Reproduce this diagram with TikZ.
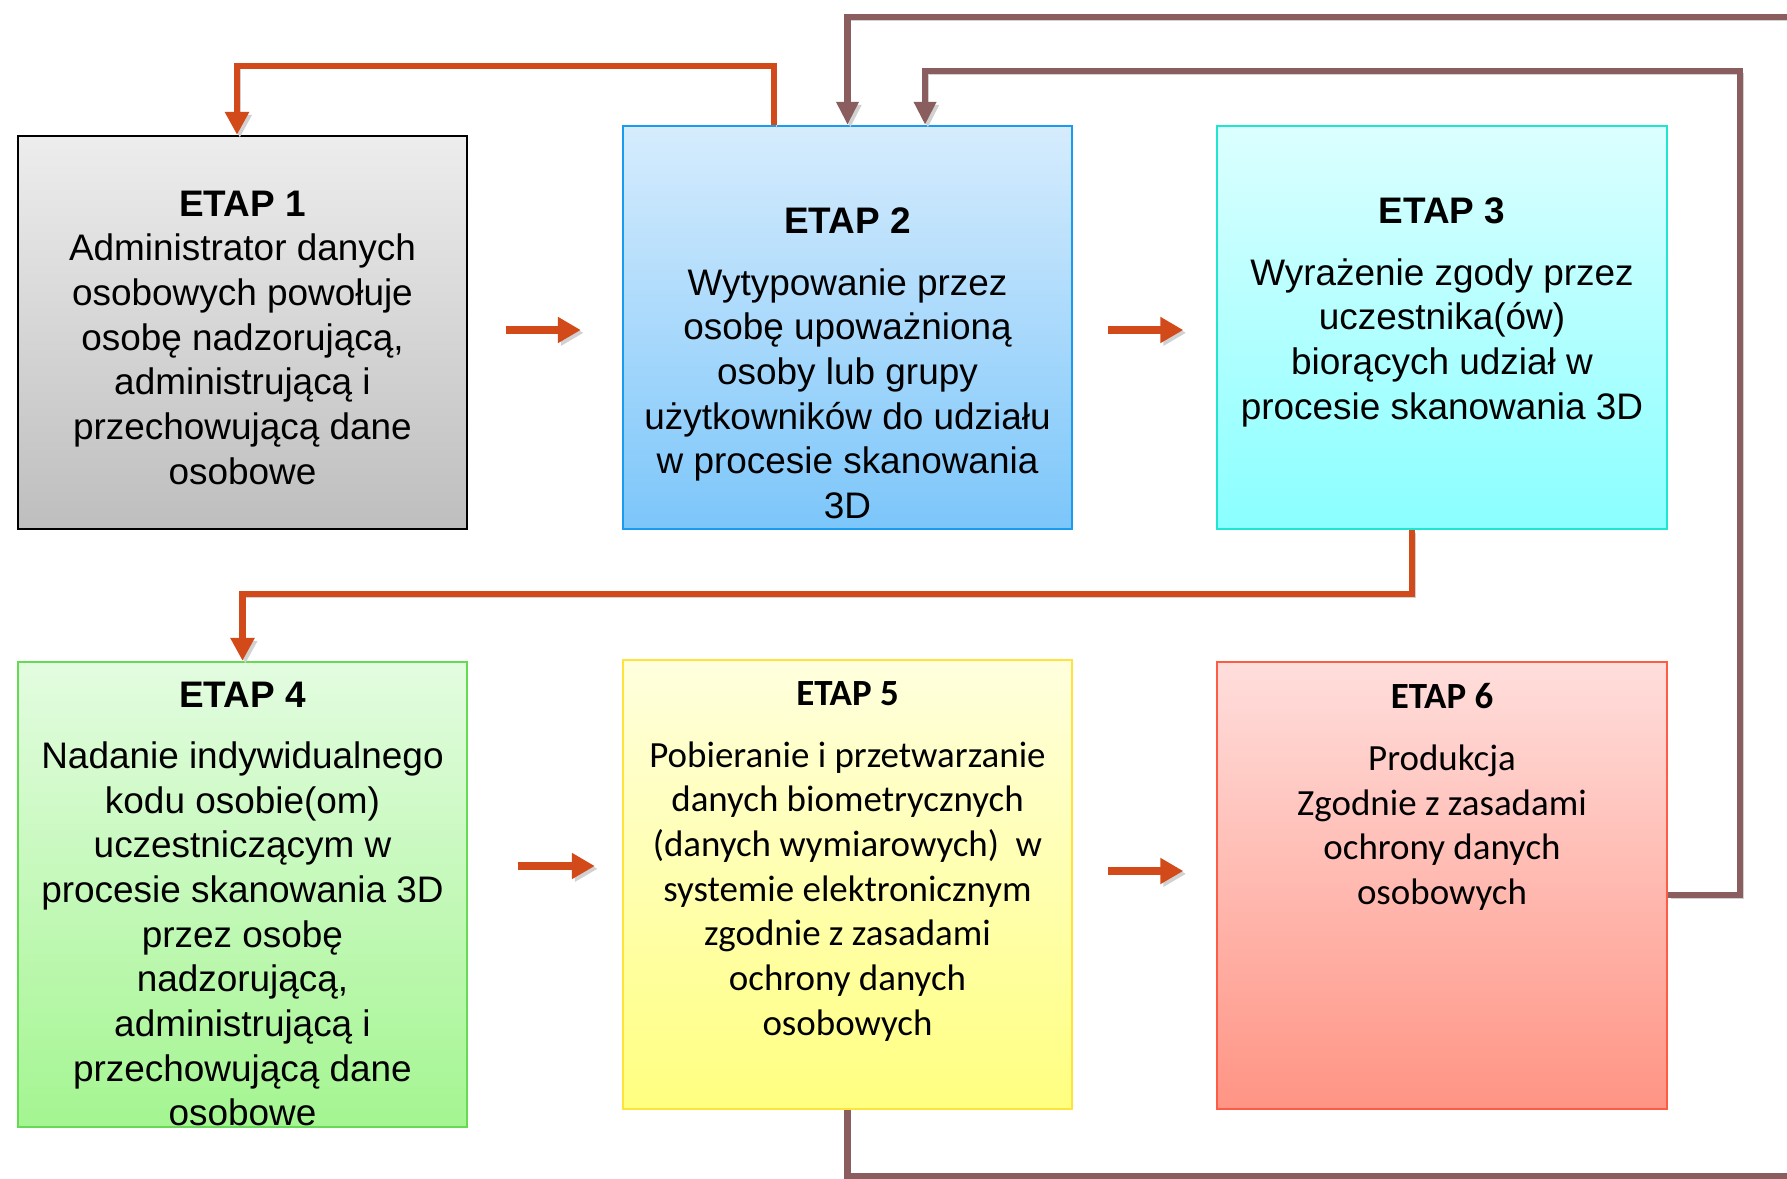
\documentclass[tikz,border=0pt]{standalone}
\usepackage{fontspec}
\setmainfont{Liberation Sans}
\newfontfamily\calibri{Carlito}
\usetikzlibrary{arrows.meta}
\definecolor{flowor}{HTML}{D24A1A}
\definecolor{loopbr}{HTML}{8A5D5E}
\tikzset{box/.style = {shape=rectangle, draw, line width=0.6pt, inner sep=0pt, minimum width=4.49cm}}
\tikzset{boxtext/.style = {anchor=north, align=center, inner sep=0pt, font=\fontsize{10.5}{12.7}\selectfont}}
\tikzset{shadow/.style = {preaction={draw=black!18, transform canvas={xshift=0.8pt,yshift=-0.8pt}}}}
\tikzset{flow/.style = {draw=flowor, line width=2.2pt, -{Triangle[length=6.5pt,width=7pt]}, shadow}}
\tikzset{oedge/.style = {draw=flowor, line width=1.8pt, -{Triangle[length=6.5pt,width=6.5pt]}, shadow}}
\tikzset{bedge/.style = {draw=loopbr, line width=1.8pt, -{Triangle[length=6.5pt,width=6pt]}, shadow}}
\begin{document}
\begin{tikzpicture}[x=0.01cm, y=-0.01cm]
                \useasboundingbox (0,0) rectangle (1787,1178);
                \clip (0,0) rectangle (1787,1178);
                \fill[white] (0,0) rectangle (1787,1178);
                \node[box, draw=black, top color={rgb,255:red,237;green,237;blue,237}, bottom color={rgb,255:red,190;green,190;blue,190}, minimum height=3.93cm] (etap1) at (242.5,332.5) {};
                \node[box, draw={rgb,255:red,26;green,155;blue,240}, top color={rgb,255:red,214;green,236;blue,253}, bottom color={rgb,255:red,124;green,198;blue,250}, minimum height=4.03cm] (etap2) at (847.5,327.5) {};
                \node[box, draw={rgb,255:red,32;green,229;blue,207}, top color={rgb,255:red,220;green,255;blue,255}, bottom color={rgb,255:red,138;green,255;blue,255}, minimum height=4.03cm] (etap3) at (1442,327.5) {};
                \node[box, draw={rgb,255:red,102;green,217;blue,85}, top color={rgb,255:red,227;green,252;blue,224}, bottom color={rgb,255:red,164;green,245;blue,145}, minimum height=4.65cm] (etap4) at (242.5,894.5) {};
                \node[box, draw={rgb,255:red,255;green,226;blue,58}, top color={rgb,255:red,255;green,255;blue,222}, bottom color={rgb,255:red,255;green,255;blue,128}, minimum height=4.49cm] (etap5) at (847.5,884.5) {};
                \node[box, draw={rgb,255:red,255;green,92;blue,69}, top color={rgb,255:red,255;green,222;blue,220}, bottom color={rgb,255:red,255;green,148;blue,132}, minimum height=4.47cm] (etap6) at (1442,885.5) {};
                \node[boxtext] (txt1) at (242.5,190) {\textbf{ETAP 1}\\Administrator danych\\osobowych powołuje\\osobę nadzorującą,\\administrującą i\\przechowującą dane\\osobowe};
                \node[boxtext] (txt2) at (847.5,207) {\textbf{ETAP 2}\\[4.8pt]Wytypowanie przez\\osobę upoważnioną\\osoby lub grupy\\użytkowników do udziału\\w procesie skanowania\\3D};
                \node[boxtext] (txt3) at (1442,197) {\textbf{ETAP 3}\\[4.8pt]Wyrażenie zgody przez\\uczestnika(ów)\\biorących udział w\\procesie skanowania 3D};
                \node[boxtext] (txt4) at (242.5,681) {\textbf{ETAP 4}\\[4.8pt]Nadanie indywidualnego\\kodu osobie(om)\\uczestniczącym w\\procesie skanowania 3D\\przez osobę\\nadzorującą,\\administrującą i\\przechowującą dane\\osobowe};
                \node[boxtext, font=\calibri\fontsize{10.5}{12.7}\selectfont] (txt5) at (847.5,681) {\textbf{ETAP 5}\\[4.8pt]Pobieranie i przetwarzanie\\danych biometrycznych\\(danych wymiarowych)\ \ w\\systemie elektronicznym\\zgodnie z zasadami\\ochrony danych\\osobowych};
                \node[boxtext, font=\calibri\fontsize{10.5}{12.7}\selectfont] (txt6) at (1442,683) {\textbf{ETAP 6}\\[4.8pt]Produkcja\\Zgodnie z zasadami\\ochrony danych\\osobowych};
                \coordinate (r6) at (1740,71);
                \coordinate (r5) at (1820,17);
                \draw[flow, shorten <=3.8mm, shorten >=4.1mm] ([yshift=0.25mm]etap1.east) -- ([yshift=-0.25mm]etap2.west);
                \draw[flow, shorten <=3.5mm, shorten >=3.3mm] ([yshift=-0.25mm]etap2.east) -- ([yshift=-0.25mm]etap3.west);
                \draw[flow, shorten <=5mm, shorten >=2.7mm] ([yshift=2.85mm]etap4.east) -- ([yshift=1.85mm]etap5.west);
                \draw[flow, shorten <=3.5mm, shorten >=3.3mm] ([yshift=1.35mm]etap5.east) -- ([yshift=1.45mm]etap6.west);
                \draw[oedge] ([xshift=-7.35mm]etap2.north) -- ++(0,-59) -| ([xshift=-0.55mm]etap1.north);
                \draw[oedge] ([xshift=-3mm]etap3.south) -- ++(0,64) -| (etap4.north);
                \draw[bedge] ([yshift=-0.95mm]etap6.east) -| (r6) -| ([xshift=7.75mm]etap2.north);
                \draw[bedge] (etap5.south) -- ++(0,66) -| (r5) -| (etap2.north);
\end{tikzpicture}
\end{document}
